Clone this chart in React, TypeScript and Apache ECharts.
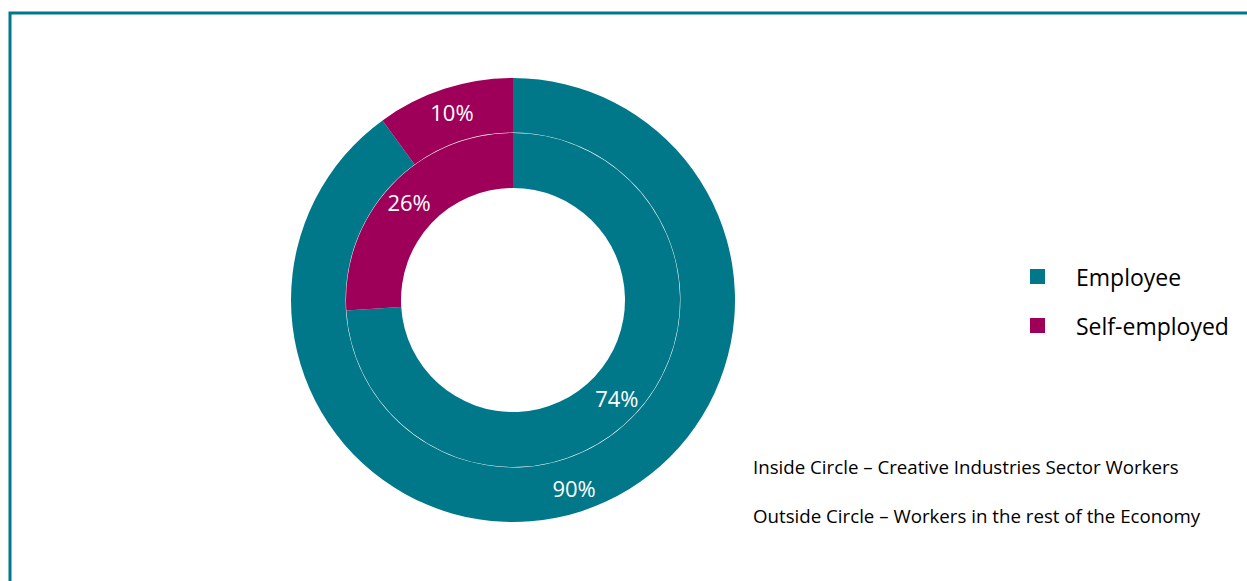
import React, { useEffect, useRef } from "react";
import * as echarts from "echarts";

const categories = ["Employee", "Self-employed"];
const insideValues = [74, 26];
const outsideValues = [90, 10];
const colors = ["#00788A", "#9E0059"];
const notes = [
  "Inside Circle – Creative Industries Sector Workers",
  "Outside Circle – Workers in the rest of the Economy",
];

const FONT = "'Open Sans', 'Noto Sans', sans-serif";

export default function App() {
  const ref = useRef<HTMLDivElement>(null);
  useEffect(() => {
    if (!ref.current) return;
    const chart = echarts.init(ref.current, null, { renderer: "svg" });
    const mk = (vals: number[]) =>
      categories.map((c, i) => ({ name: c, value: vals[i], itemStyle: { color: colors[i] } }));
    const label = {
      show: true,
      position: "inside",
      formatter: "{c}%",
      color: "#ffffff",
      fontSize: 22,
      fontFamily: FONT,
    };
    chart.setOption({
      animation: false,
      backgroundColor: "#ffffff",
      color: colors,
      legend: {
        orient: "vertical",
        left: 1025,
        top: 260,
        icon: "rect",
        itemWidth: 15,
        itemHeight: 15,
        itemGap: 26,
        data: categories,
        textStyle: {
          fontSize: 23,
          color: "#000000",
          fontFamily: FONT,
          padding: [0, 0, 0, 26],
        },
      },
      graphic: [
        {
          type: "rect",
          shape: { x: 10, y: 13, width: 1400, height: 800 },
          style: { fill: "none", stroke: "#00788A", lineWidth: 3 },
          silent: true,
        },
        {
          type: "text",
          left: 753,
          top: 457,
          style: { text: notes[0], fontSize: 18.7, fill: "#000000", fontFamily: FONT },
        },
        {
          type: "text",
          left: 753,
          top: 506,
          style: { text: notes[1], fontSize: 18.7, fill: "#000000", fontFamily: FONT },
        },
      ],
      series: [
        {
          name: "Inside",
          type: "pie",
          center: [513, 300],
          radius: [112, 167],
          startAngle: 90,
          clockwise: true,
          label,
          labelLine: { show: false },
          data: mk(insideValues),
        },
        {
          name: "Outside",
          type: "pie",
          center: [513, 300],
          radius: [167.4, 222],
          startAngle: 90,
          clockwise: true,
          label,
          labelLine: { show: false },
          data: mk(outsideValues),
        },
      ],
    });
    return () => chart.dispose();
  }, []);
  return (
    <div
      ref={ref}
      style={{ position: "absolute", left: 0, top: 0, width: 1247, height: 581 }}
    />
  );
}
